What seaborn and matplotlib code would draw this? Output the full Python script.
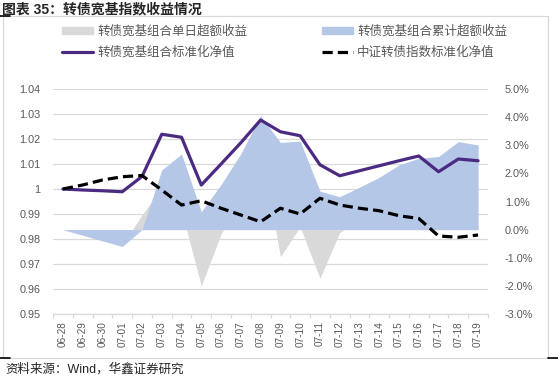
import matplotlib
matplotlib.use('Agg')
import matplotlib.pyplot as plt
from matplotlib.patches import Patch, Rectangle
from matplotlib.lines import Line2D
from matplotlib.ticker import FuncFormatter, FixedLocator
import seaborn as sns
import pandas as pd
import numpy as np

# 数据
dates = ['06-28', '06-29', '06-30', '07-01', '07-02', '07-03', '07-04', '07-05',
         '07-06', '07-07', '07-08', '07-09', '07-10', '07-11', '07-12', '07-13',
         '07-14', '07-15', '07-16', '07-17', '07-18', '07-19']
portfolio_nav = [1.000, 0.9996, 0.9993, 0.9989, 1.0050, 1.0219, 1.0207, 1.0016,
                 1.0100, 1.0185, 1.0276, 1.0229, 1.0213, 1.0097, 1.0053, 1.0073,
                 1.0093, 1.0113, 1.0132, 1.0069, 1.0120, 1.0113]
index_nav = [1.000, 1.0016, 1.0036, 1.0049, 1.0054, 0.9996, 0.9936, 0.9953,
             0.9923, 0.9896, 0.9869, 0.9923, 0.9900, 0.9963, 0.9936, 0.9923,
             0.9913, 0.9893, 0.9882, 0.9812, 0.9807, 0.9816]
cum_excess = [0.0, -0.2, -0.4, -0.6, 0.0, 2.12, 2.69, 0.64, 1.6, 2.7, 4.04, 3.1,
              3.15, 1.37, 1.17, 1.51, 1.86, 2.3, 2.54, 2.6, 3.13, 3.01]
daily_excess = [0.0, -0.1, -0.2, -0.55, 0.52, 1.5, 0.67, -2.0, -0.15, 1.0, 3.0, -0.96,
                0.1, -1.73, -0.1, 0.3, 0.35, 0.4, 0.25, 0.1, 0.5, 0.1]

labels = ['转债宽基组合单日超额收益', '转债宽基组合累计超额收益',
          '转债宽基组合标准化净值', '中证转债指数标准化净值']

df = pd.DataFrame({'x': np.arange(len(dates)), 'date': dates,
                   'pnav': portfolio_nav, 'inav': index_nav,
                   'cum': cum_excess, 'daily': daily_excess})

sns.set_theme(style='white')
plt.rcParams['font.family'] = ['Liberation Sans', 'Noto Sans CJK SC', 'DejaVu Sans']
plt.rcParams['axes.unicode_minus'] = False

c_gray = '#d9d9d9'
c_blue = '#b4c7e7'
c_purple = '#4b2a82'
c_text = '#595959'

fig = plt.figure(figsize=(5.58, 3.77), dpi=100)
fig.patch.set_facecolor('white')
ax = fig.add_axes([53/558, 1-314/377, 435/558, 225/377])

# 左轴：网格
ax.set_xlim(-0.5, len(dates)-0.5)
ax.set_ylim(0.95, 1.04)
ax.set_yticks(np.round(np.arange(0.95, 1.0401, 0.01), 2))
ax.yaxis.set_major_formatter(FuncFormatter(lambda v, p: f'{v:g}'))
ax.grid(axis='y', color=c_gray, lw=0.9)
ax.set_axisbelow(True)

# 右轴：超额收益面积
axp = ax.twinx()
axp.fill_between(df['x'], 0, df['daily'], color=c_gray, lw=0)
axp.fill_between(df['x'], 0, df['cum'], color=c_blue, lw=0)
axp.set_ylim(-3, 5)
axp.set_yticks(np.arange(-3, 5.1, 1))
axp.yaxis.set_major_formatter(FuncFormatter(lambda v, p: f'{v:.1f}%'))

# 净值线
axl = ax.twinx()
sns.lineplot(data=df, x='x', y='pnav', ax=axl, color=c_purple, lw=2.3)
sns.lineplot(data=df, x='x', y='inav', ax=axl, color='black', lw=2.3,
             linestyle=(0, (3.2, 1.6)))
axl.set_ylim(0.95, 1.04)
axl.set_yticks([])
axl.set_ylabel('')
axl.set_xlabel('')

for a in (ax, axp, axl):
    for s in a.spines.values():
        s.set_visible(False)
ax.spines['bottom'].set_visible(True)
ax.spines['bottom'].set_color(c_gray)
ax.spines['bottom'].set_linewidth(0.9)

ax.set_xticks(df['x'])
ax.set_xticklabels(dates, rotation=90, fontsize=7.2, color=c_text)
ax.xaxis.set_minor_locator(FixedLocator(np.arange(-0.5, len(dates), 1)))
ax.tick_params(axis='x', which='major', length=0, pad=5)
ax.tick_params(axis='x', which='minor', length=3, color=c_gray, width=0.9, bottom=True)
ax.tick_params(axis='y', length=0, pad=9, labelsize=7.8, labelcolor=c_text)
axp.tick_params(axis='y', length=0, pad=12, labelsize=7.8, labelcolor=c_text)
axl.set_xlim(-0.5, len(dates)-0.5)

# 图例
handles = [Patch(color=c_gray), Line2D([], [], color=c_purple, lw=2.3),
           Patch(color=c_blue), Line2D([], [], color='black', lw=2.3, linestyle=(0, (3.2, 1.6)))]
fig.legend(handles, [labels[0], labels[2], labels[1], labels[3]], ncol=2,
           loc='upper left', bbox_to_anchor=(62/558, 1-25/377), frameon=False,
           fontsize=9, labelcolor=c_text, handlelength=2.5, handleheight=0.5,
           handletextpad=0.3, columnspacing=6, labelspacing=0.7,
           borderpad=0, borderaxespad=0)

# 标题、来源、边框
fig.text(2/558, 1-9/377, '图表 35：转债宽基指数收益情况', fontsize=10,
         fontweight='bold', va='center', ha='left')
fig.text(5/558, 1-369/377, '资料来源：Wind，华鑫证券研究', fontsize=9,
         va='center', ha='left')
fig.add_artist(Rectangle((3/558, 1-358/377), 545/558, 342/377,
                         transform=fig.transFigure, fill=False,
                         edgecolor=c_gray, lw=0.9))
fig.add_artist(Line2D([0, 10/558], [1-16/377, 1-16/377], color='black', lw=1.2))
fig.add_artist(Line2D([0, 10/558], [1-358/377, 1-358/377], color='black', lw=1.2))
fig.add_artist(Line2D([548/558, 1], [1-358/377, 1-358/377], color='black', lw=1.2))

fig.savefig('out.png', dpi=100)
